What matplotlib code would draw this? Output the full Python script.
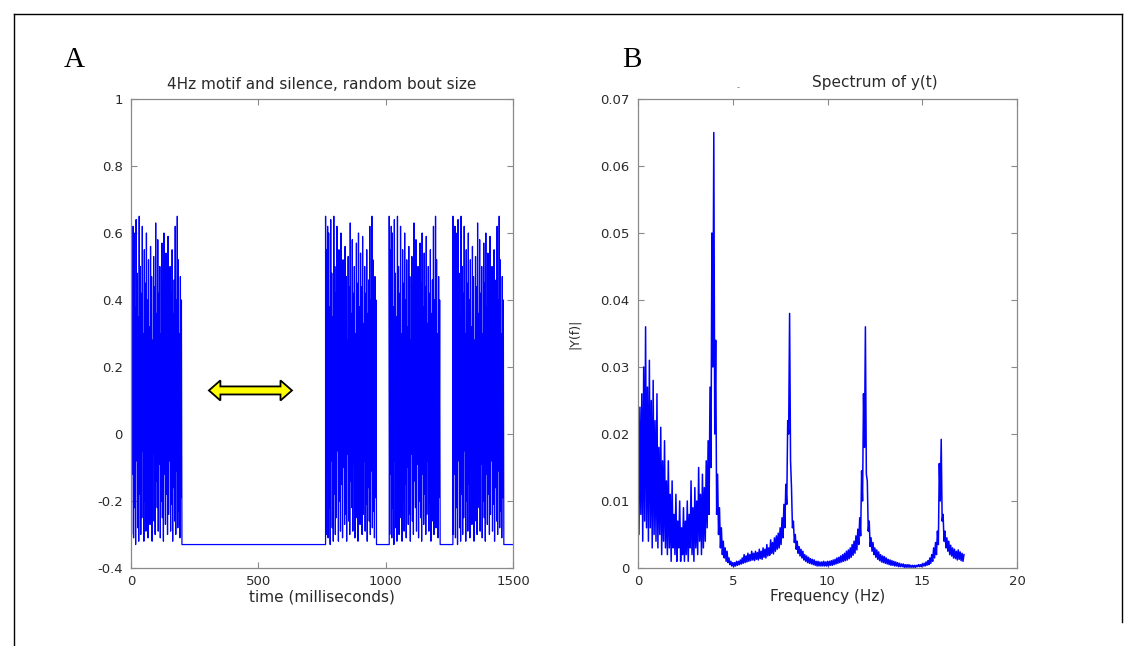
import matplotlib
matplotlib.use("Agg")
import matplotlib.pyplot as plt
import numpy as np
from matplotlib.lines import Line2D
from matplotlib.patches import Polygon

# ---- panel A: 4 Hz motif and silence ----
bout_starts = [0, 764, 1014, 1264]   # ms
motif_ms = 200
silence_level = -0.33
t_end = 1500

motif_peaks = [0.65, 0.55, 0.62, 0.60, 0.38, 0.64, 0.48, 0.35, 0.65, 0.50,
               0.42, 0.62, 0.30, 0.55, 0.45, 0.60, 0.40, 0.52, 0.32, 0.56,
               0.47, 0.28, 0.53, 0.44, 0.63, 0.36, 0.58, 0.42, 0.50, 0.30,
               0.57, 0.45, 0.60, 0.38, 0.54, 0.44, 0.59, 0.33, 0.50, 0.42,
               0.55, 0.36, 0.46, 0.62, 0.40, 0.65, 0.52, 0.30, 0.47, 0.40]
motif_troughs = [-0.30, -0.12, -0.31, -0.22, -0.33, -0.08, -0.28, -0.32, -0.18, -0.30,
                 -0.25, -0.05, -0.32, -0.20, -0.29, -0.15, -0.31, -0.10, -0.27, -0.24,
                 -0.32, -0.06, -0.26, -0.30, -0.14, -0.22, -0.29, -0.09, -0.31, -0.20,
                 -0.25, -0.32, -0.12, -0.27, -0.18, -0.30, -0.24, -0.08, -0.29, -0.21,
                 -0.32, -0.16, -0.26, -0.30, -0.11, -0.28, -0.23, -0.31, -0.19, -0.27]

# ---- panel B: spectrum |Y(f)| ----
freq_step = 0.1
spec_hi = [
    0.027, 0.024, 0.026, 0.030, 0.036, 0.027, 0.031, 0.025, 0.028, 0.022,
    0.026, 0.018, 0.021, 0.016, 0.019, 0.013, 0.016, 0.011, 0.013, 0.008,
    0.011, 0.007, 0.010, 0.006, 0.009, 0.007, 0.010, 0.008, 0.013, 0.009,
    0.012, 0.010, 0.015, 0.011, 0.014, 0.012, 0.016, 0.019, 0.027, 0.050,
    0.065, 0.034, 0.014, 0.009, 0.006, 0.004, 0.003, 0.0025, 0.0015, 0.001,
    0.0008, 0.0008, 0.001, 0.001, 0.0012, 0.0015, 0.002, 0.0018, 0.0022, 0.002,
    0.0025, 0.0022, 0.0025, 0.0023, 0.0028, 0.0025, 0.003, 0.0028, 0.0035, 0.003,
    0.0042, 0.0038, 0.0045, 0.0048, 0.0052, 0.006, 0.0075, 0.0095, 0.0125, 0.022,
    0.038, 0.012, 0.007, 0.005, 0.004, 0.0032, 0.0028, 0.0025, 0.002, 0.0018,
    0.0016, 0.0014, 0.0013, 0.0012, 0.001, 0.001, 0.0009, 0.0009, 0.001, 0.0009,
    0.001, 0.001, 0.0011, 0.0012, 0.0013, 0.0015, 0.0016, 0.0018, 0.002, 0.0022,
    0.0025, 0.0027, 0.003, 0.0035, 0.004, 0.0048, 0.0058, 0.0075, 0.0145, 0.026,
    0.036, 0.013, 0.007, 0.0045, 0.0038, 0.003, 0.0027, 0.0024, 0.002, 0.0018,
    0.0017, 0.0015, 0.0013, 0.0012, 0.0011, 0.001, 0.0009, 0.0008, 0.0007, 0.0006,
    0.0006, 0.0005, 0.0005, 0.0005, 0.0004, 0.0004, 0.0004, 0.0004, 0.0005, 0.0005,
    0.0006, 0.0007, 0.0009, 0.0011, 0.0015, 0.002, 0.003, 0.0038, 0.0055, 0.0156,
    0.0192, 0.008, 0.0055, 0.0045, 0.004, 0.0034, 0.003, 0.0028, 0.0025, 0.0027,
    0.0024, 0.0022, 0.002]
spec_lo = [
    0.005, 0.008, 0.004, 0.007, 0.006, 0.004, 0.006, 0.003, 0.005, 0.004,
    0.003, 0.005, 0.002, 0.004, 0.003, 0.002, 0.003, 0.001, 0.003, 0.002,
    0.001, 0.003, 0.001, 0.002, 0.001, 0.002, 0.001, 0.003, 0.002, 0.001,
    0.003, 0.002, 0.004, 0.002, 0.003, 0.004, 0.006, 0.008, 0.015, 0.030,
    0.020, 0.008, 0.005, 0.003, 0.002, 0.0015, 0.001, 0.0008, 0.0005, 0.0003,
    0.0002, 0.0003, 0.0004, 0.0005, 0.0006, 0.0007, 0.0008, 0.0009, 0.001, 0.0011,
    0.0012, 0.0011, 0.0013, 0.0012, 0.0014, 0.0013, 0.0016, 0.0015, 0.0018, 0.0019,
    0.0022, 0.0021, 0.0025, 0.0028, 0.003, 0.0035, 0.0045, 0.006, 0.0095, 0.020,
    0.016, 0.006, 0.0038, 0.0028, 0.0022, 0.0018, 0.0015, 0.0012, 0.001, 0.0008,
    0.0007, 0.0006, 0.0005, 0.0004, 0.0003, 0.0003, 0.0003, 0.0003, 0.0003, 0.0003,
    0.0003, 0.0004, 0.0004, 0.0005, 0.0006, 0.0007, 0.0008, 0.0009, 0.001, 0.0011,
    0.0012, 0.0014, 0.0016, 0.0019, 0.0022, 0.0027, 0.0035, 0.0048, 0.010, 0.018,
    0.014, 0.0055, 0.0032, 0.0025, 0.002, 0.0016, 0.0013, 0.0011, 0.0009, 0.0008,
    0.0007, 0.0006, 0.0005, 0.0004, 0.0004, 0.0003, 0.0003, 0.0002, 0.0002, 0.0002,
    0.0001, 0.0001, 0.0001, 0.0001, 0.0001, 0.0001, 0.0001, 0.0002, 0.0002, 0.0002,
    0.0003, 0.0003, 0.0004, 0.0005, 0.0007, 0.001, 0.0015, 0.002, 0.0035, 0.010,
    0.007, 0.004, 0.003, 0.0025, 0.002, 0.0018, 0.0015, 0.0014, 0.0012, 0.0013,
    0.0011, 0.001, 0.0008]

# yellow arrow marking the silent gap (data coords of panel A)
arrow_span = (306, 632)
arrow_y = 0.13

BLUE = "#0000ff"
AXCOL = "#8a8a8a"
TXT = "#2a2a2a"
SANS = "DejaVu Sans"
FS = 9.5


def build_signal():
    motif = np.empty(2 * len(motif_peaks))
    motif[0::2] = motif_peaks
    motif[1::2] = motif_troughs
    t_parts, y_parts = [], []
    for i, s in enumerate(bout_starts):
        t_parts.append(s + np.linspace(0, motif_ms, motif.size))
        y_parts.append(motif)
        nxt = bout_starts[i + 1] if i + 1 < len(bout_starts) else t_end
        t_parts.append(np.array([s + motif_ms, nxt]))
        y_parts.append(np.array([silence_level, silence_level]))
    return np.concatenate(t_parts), np.concatenate(y_parts)


def build_spectrum():
    f = np.arange(len(spec_hi)) * freq_step
    x = np.empty(2 * f.size)
    y = np.empty(2 * f.size)
    x[0::2] = f
    x[1::2] = f + freq_step / 2
    y[0::2] = spec_hi
    y[1::2] = spec_lo
    return x[:-1], y[:-1]


def style_axes(ax):
    for sp in ax.spines.values():
        sp.set_color(AXCOL)
        sp.set_linewidth(0.9)
    ax.tick_params(direction="in", length=4, width=0.8, color=AXCOL,
                   top=True, right=True, labelsize=FS, labelcolor=TXT)
    ax.tick_params(axis="y", pad=6)
    ax.tick_params(axis="x", pad=5)
    for lab in ax.get_xticklabels() + ax.get_yticklabels():
        lab.set_family(SANS)


fig = plt.figure(figsize=(11.37, 6.46), dpi=100)

# panel A
axA = fig.add_axes([131 / 1137, 78 / 646, 382 / 1137, 469 / 646])
t, y = build_signal()
axA.plot(t, y, color=BLUE, lw=0.9)
axA.set_xlim(0, 1500)
axA.set_ylim(-0.4, 1)
axA.set_xticks([0, 500, 1000, 1500])
axA.set_yticks(np.arange(-0.4, 1.01, 0.2))
axA.set_yticklabels(["-0.4", "-0.2", "0", "0.2", "0.4", "0.6", "0.8", "1"])
style_axes(axA)
axA.set_title("4Hz motif and silence, random bout size", fontsize=11,
              family=SANS, color=TXT, pad=7)
axA.set_xlabel("time (milliseconds)", fontsize=11, family=SANS, color=TXT, labelpad=1)

# double-headed yellow arrow
x0, x1 = arrow_span
hl, hw, sw = 45, 0.03, 0.012
arrow_pts = [(x0, arrow_y), (x0 + hl, arrow_y + hw), (x0 + hl, arrow_y + sw),
             (x1 - hl, arrow_y + sw), (x1 - hl, arrow_y + hw), (x1, arrow_y),
             (x1 - hl, arrow_y - hw), (x1 - hl, arrow_y - sw),
             (x0 + hl, arrow_y - sw), (x0 + hl, arrow_y - hw)]
axA.add_patch(Polygon(arrow_pts, closed=True, facecolor="#ffff00",
                      edgecolor="black", lw=1.3, zorder=5))

# panel B
axB = fig.add_axes([638 / 1137, 78 / 646, 379 / 1137, 469 / 646])
fx, fy = build_spectrum()
axB.plot(fx, fy, color=BLUE, lw=1.1)
axB.set_xlim(0, 20)
axB.set_ylim(0, 0.07)
axB.set_xticks([0, 5, 10, 15, 20])
axB.set_yticks(np.arange(0, 0.071, 0.01))
axB.set_yticklabels(["0", "0.01", "0.02", "0.03", "0.04", "0.05", "0.06", "0.07"])
style_axes(axB)
axB.set_xlabel("Frequency (Hz)", fontsize=11, family=SANS, color=TXT, labelpad=1)
axB.set_ylabel("|Y(f)|", fontsize=9, family=SANS, color=TXT, labelpad=14)
fig.text(875 / 1137, 1 - 83 / 646, "Spectrum of y(t)", fontsize=11, family=SANS,
         color=TXT, ha="center", va="center")
fig.text(738 / 1137, 1 - 88 / 646, "-", fontsize=6, family=SANS,
         color="#777777", ha="center", va="center")

# panel letters
fig.text(64 / 1137, 1 - 60 / 646, "A", fontsize=21, family="Liberation Serif",
         color="black", ha="left", va="center")
fig.text(622 / 1137, 1 - 60 / 646, "B", fontsize=21, family="Liberation Serif",
         color="black", ha="left", va="center")

# outer frame (table cell border)
L, R, T = 14 / 1137, 1122 / 1137, 1 - 14 / 646
fig.add_artist(Line2D([L, R], [T, T], color="black", lw=1.0))
fig.add_artist(Line2D([L, L], [T, 0], color="black", lw=1.0))
fig.add_artist(Line2D([R, R], [T, 24 / 646], color="black", lw=1.0))

fig.savefig("out.png", dpi=100)
